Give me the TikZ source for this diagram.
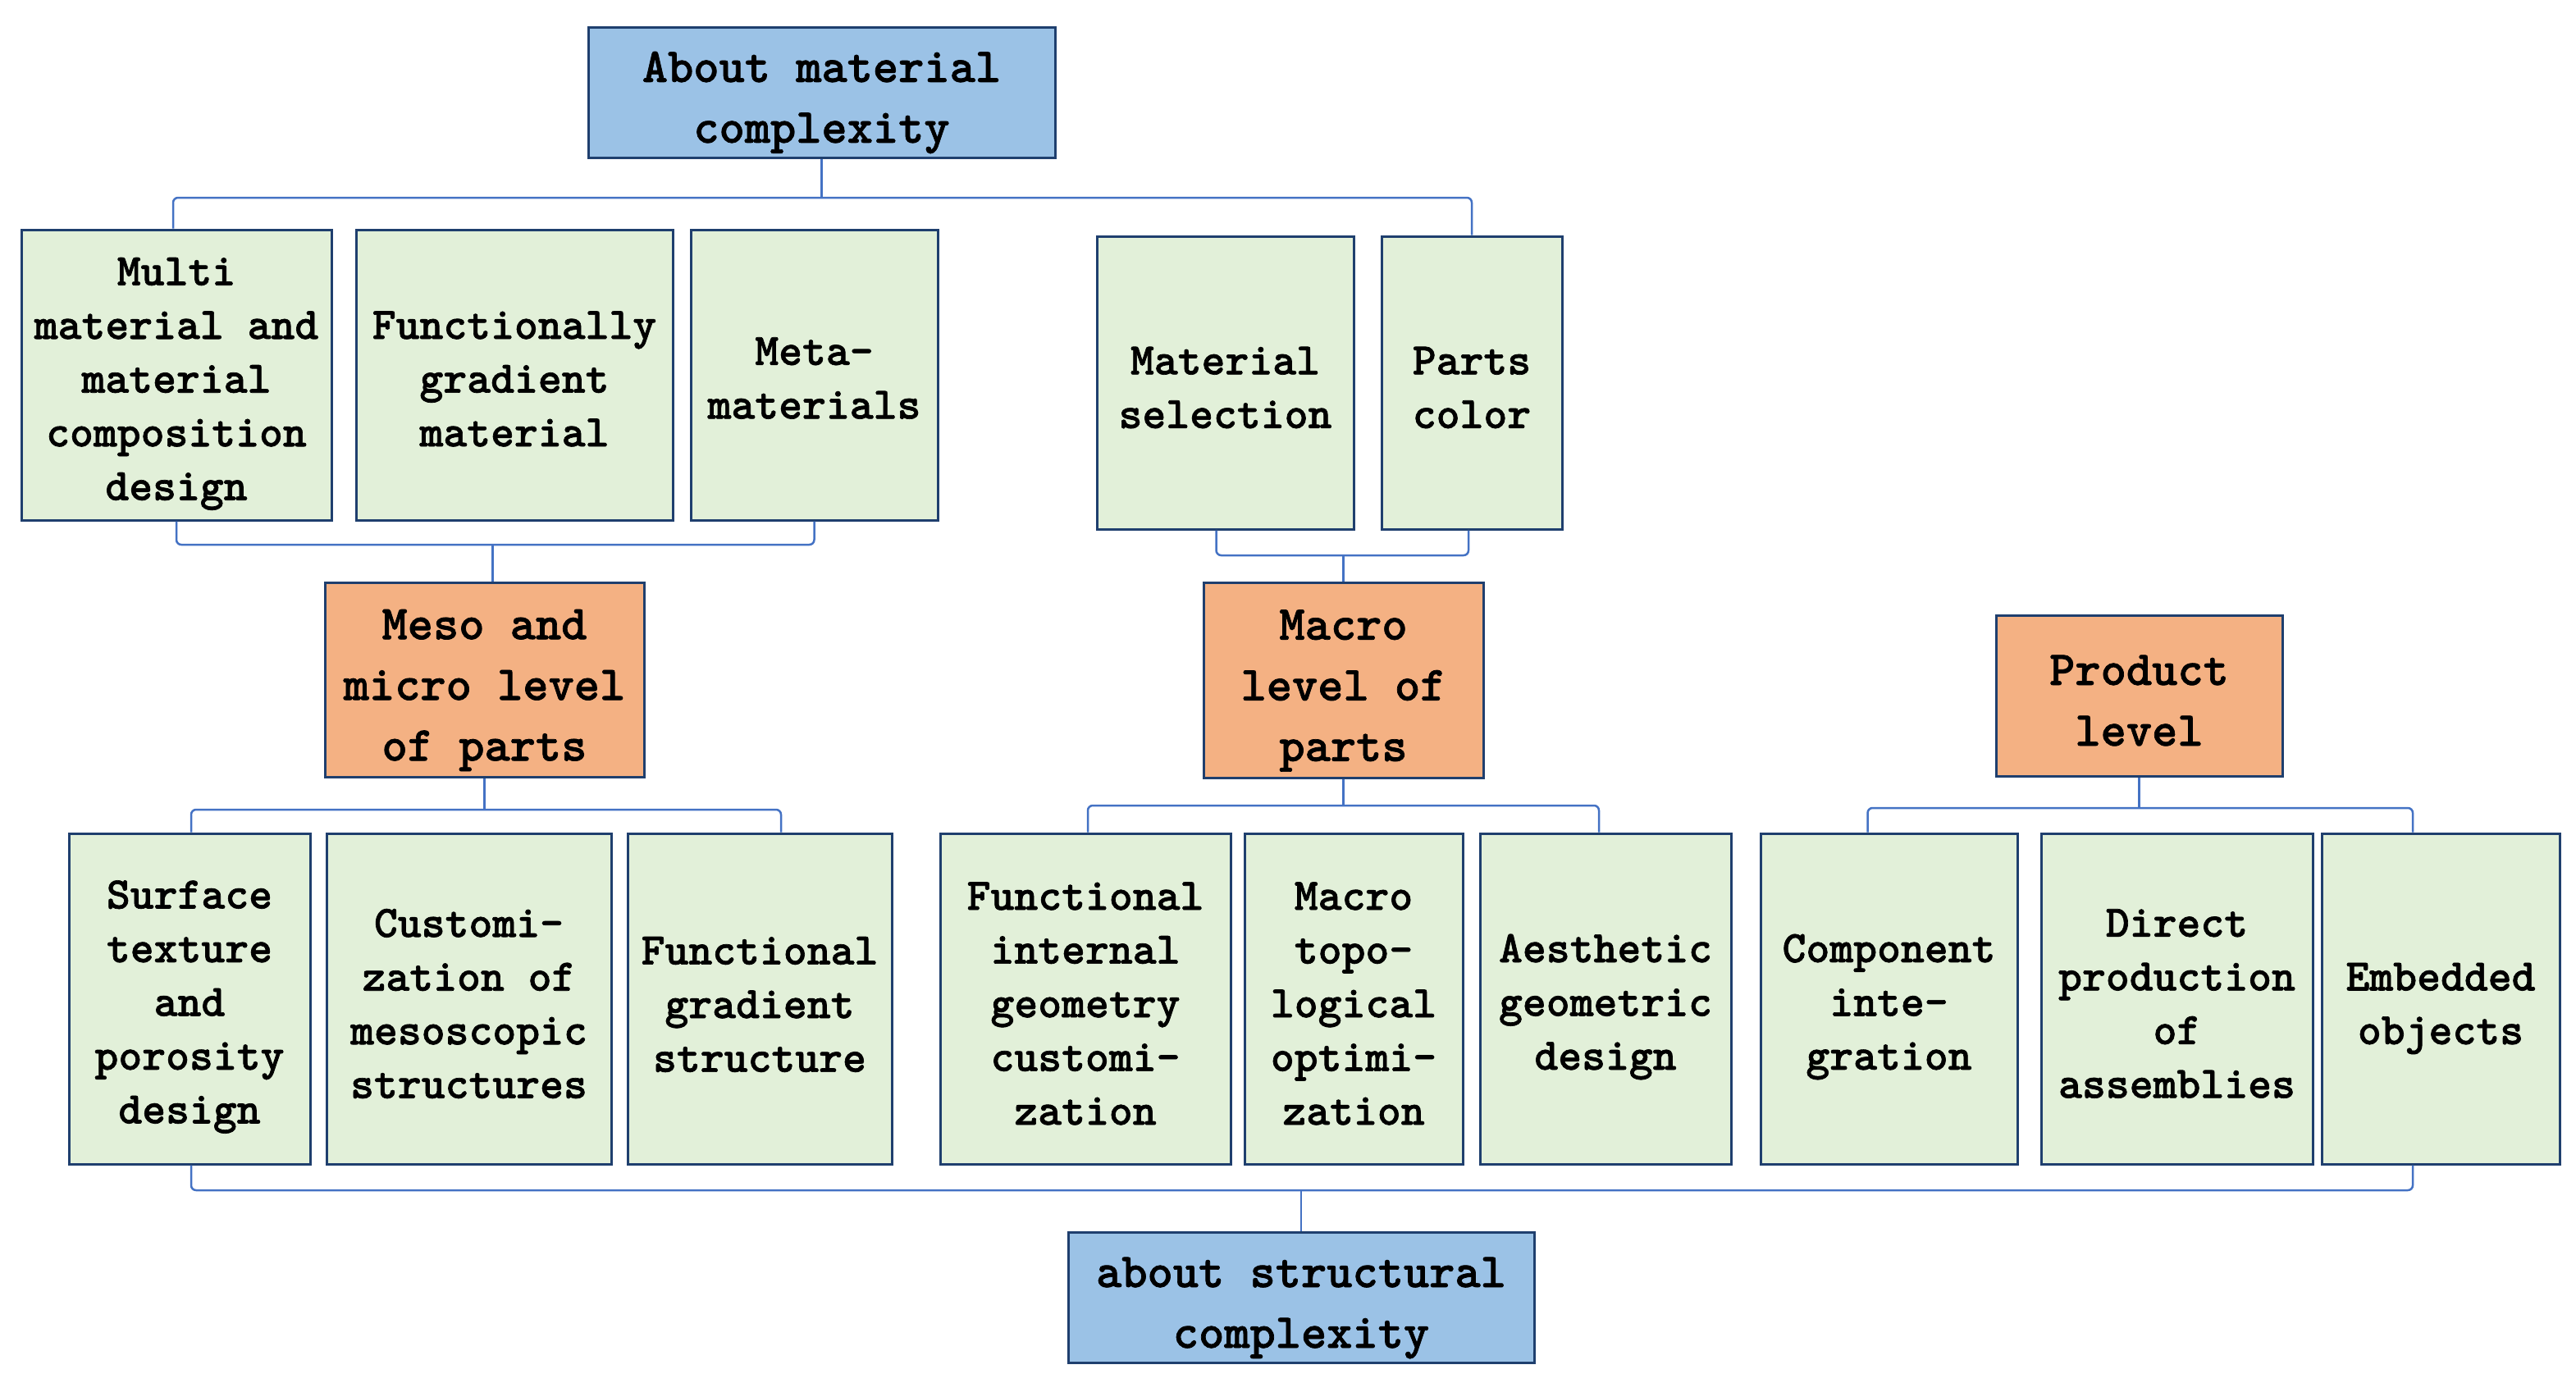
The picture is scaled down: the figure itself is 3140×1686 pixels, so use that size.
\documentclass[tikz,border=0pt]{standalone}
\usepackage{fontspec}
\newfontfamily\boxfont[FakeBold=1.2]{lmmonolt10-bold.otf}
\usetikzlibrary{calc}
\definecolor{bluefill}{HTML}{9BC2E6}
\definecolor{greenfill}{HTML}{E2F0D9}
\definecolor{orangefill}{HTML}{F4B183}
\definecolor{boxline}{HTML}{1F3F6E}
\definecolor{connline}{HTML}{4472C4}
\begin{document}
\begin{tikzpicture}[x=1pt,y=-1pt,
  box/.style={draw=boxline, line width=3pt, inner sep=0pt},
  gtxt/.style={align=center, inner sep=0pt, font=\boxfont\fontsize{55}{65.5}\selectfont},
  ctxt/.style={align=center, inner sep=0pt, font=\boxfont\fontsize{59.5}{74}\selectfont},
  bluebox/.style={box, fill=bluefill},
  greenbox/.style={box, fill=greenfill},
  orangebox/.style={box, fill=orangefill},
  conn/.style={draw=connline, line width=2.5pt, rounded corners=6pt}]
\useasboundingbox (0,0) rectangle (3140,1686);
\fill[white] (0,0) rectangle (3140,1686);

% top
\node[bluebox, minimum width=569pt, minimum height=158pt,
  label={[ctxt, yshift=-12pt]center:{About material\\complexity}}] (top) at (1001.5,113) {};
% row 1
\node[greenbox, minimum width=378pt, minimum height=354pt,
  label={[gtxt, yshift=-11pt]center:{Multi\\material and\\material\\composition\\design}}] (A1) at (215,457) {};
\node[greenbox, minimum width=386pt, minimum height=354pt,
  label={[gtxt, yshift=-5pt]center:{Functionally\\gradient\\material}}] (A2) at (627,457) {};
\node[greenbox, minimum width=301pt, minimum height=354pt,
  label={[gtxt, yshift=-4pt]center:{Meta-\\materials}}] (A3) at (992.5,457) {};
\node[greenbox, minimum width=313pt, minimum height=357pt,
  label={[gtxt, yshift=-6pt]center:{Material\\selection}}] (B1) at (1493.5,466.5) {};
\node[greenbox, minimum width=220pt, minimum height=357pt,
  label={[gtxt, yshift=-6pt]center:{Parts\\color}}] (B2) at (1794,466.5) {};
% row 2
\node[orangebox, minimum width=389pt, minimum height=237pt,
  label={[ctxt, yshift=-13pt]center:{Meso and\\micro level\\of parts}}] (meso) at (590.5,828.5) {};
\node[orangebox, minimum width=341pt, minimum height=238pt,
  label={[ctxt, yshift=-13pt]center:{Macro\\level of\\parts}}] (macro) at (1637.5,829) {};
\node[orangebox, minimum width=349pt, minimum height=196pt,
  label={[ctxt, yshift=-6pt]center:{Product\\level}}] (prod) at (2607.5,848) {};
% row 3
\node[greenbox, minimum width=294pt, minimum height=403pt,
  label={[gtxt, yshift=-10pt]center:{Surface\\texture\\and\\porosity\\design}}] (C1) at (231,1217.5) {};
\node[greenbox, minimum width=347pt, minimum height=403pt,
  label={[gtxt, yshift=-6pt]center:{Customi-\\zation of\\mesoscopic\\structures}}] (C2) at (571.5,1217.5) {};
\node[greenbox, minimum width=322pt, minimum height=403pt,
  label={[gtxt, yshift=-7pt]center:{Functional\\gradient\\structure}}] (C3) at (926,1217.5) {};
\node[greenbox, minimum width=354pt, minimum height=403pt,
  label={[gtxt, yshift=-6pt]center:{Functional\\internal\\geometry\\customi-\\zation}}] (D1) at (1323,1217.5) {};
\node[greenbox, minimum width=266pt, minimum height=403pt,
  label={[gtxt, yshift=-6pt]center:{Macro\\topo-\\logical\\optimi-\\zation}}] (D2) at (1650,1217.5) {};
\node[greenbox, minimum width=306pt, minimum height=403pt,
  label={[gtxt, yshift=-10pt]center:{Aesthetic\\geometric\\design}}] (D3) at (1957,1217.5) {};
\node[greenbox, minimum width=313pt, minimum height=403pt,
  label={[gtxt, yshift=-10pt]center:{Component\\inte-\\gration}}] (E1) at (2302.5,1217.5) {};
\node[greenbox, minimum width=331pt, minimum height=403pt,
  label={[gtxt, yshift=-6pt]center:{Direct\\production\\of\\assemblies}}] (E2) at (2653.5,1217.5) {};
\node[greenbox, minimum width=290pt, minimum height=403pt,
  label={[gtxt, yshift=-12pt]center:{Embedded\\objects}}] (E3) at (2975,1217.5) {};
% bottom
\node[bluebox, minimum width=568pt, minimum height=159pt,
  label={[ctxt, yshift=-13pt]center:{about structural\\complexity}}] (bot) at (1586,1581.5) {};

% connectors
\draw[conn] (top.south) -- (top.south |- 0,241);
\draw[conn] ([xshift=-4pt]A1.north) |- (B2.north |- 0,241) -- (B2.north);

\draw[conn] (A1.south) |- (A3.south |- 0,664) -- (A3.south);
\draw[conn] ([xshift=10pt]meso.north) -- ([xshift=10pt]meso.north |- 0,664);

\draw[conn] ([xshift=-11pt]B1.south) |- ([xshift=-4pt]B2.south |- 0,677) -- ([xshift=-4pt]B2.south);
\draw[conn] (macro.north) -- (macro.north |- 0,677);

\draw[conn] (meso.south) -- (meso.south |- 0,987);
\draw[conn] ([xshift=2pt]C1.north) |- ([xshift=26pt]C3.north |- 0,987) -- ([xshift=26pt]C3.north);

\draw[conn] (macro.south) -- (macro.south |- 0,982);
\draw[conn] ([xshift=3pt]D1.north) |- ([xshift=-8pt]D3.north |- 0,982) -- ([xshift=-8pt]D3.north);

\draw[conn] (prod.south) -- (prod.south |- 0,985);
\draw[conn] ([xshift=-26pt]E1.north) |- ([xshift=-34pt]E3.north |- 0,985) -- ([xshift=-34pt]E3.north);

\draw[conn] ([xshift=2pt]C1.south) |- ([xshift=-34pt]E3.south |- 0,1451) -- ([xshift=-34pt]E3.south);
\draw[conn] (bot.north) -- (bot.north |- 0,1451);
\end{tikzpicture}
\end{document}
